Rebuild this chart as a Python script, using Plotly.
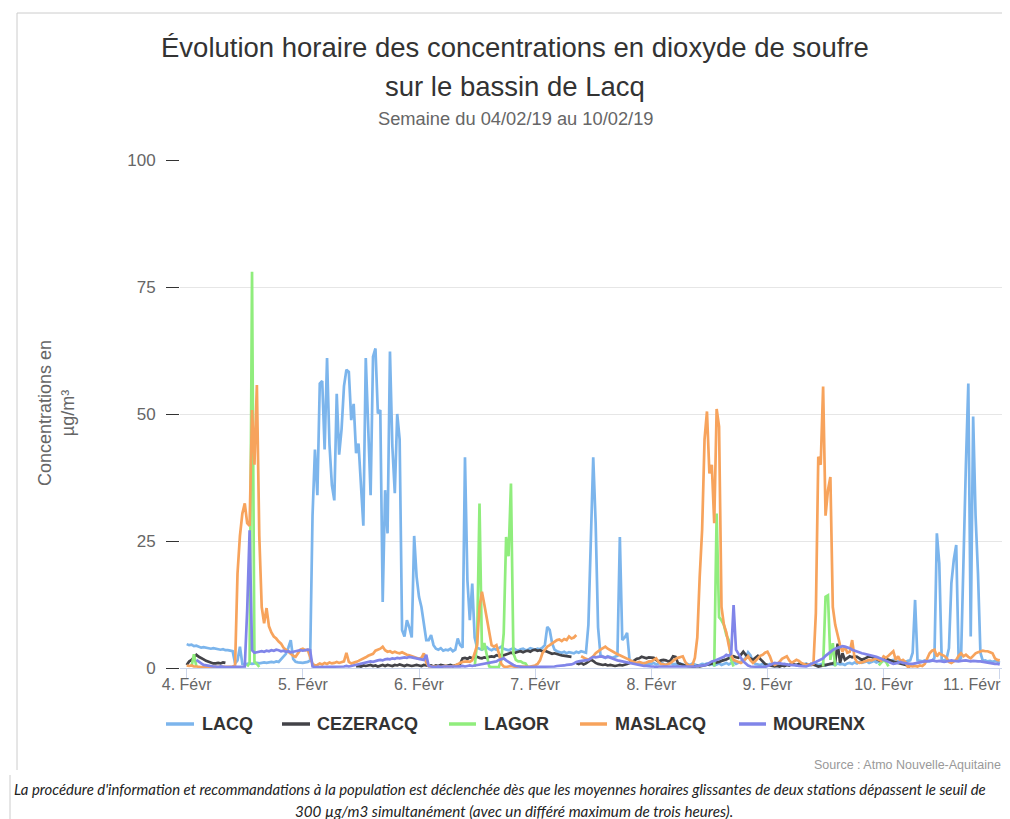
import pandas as pd
import plotly.graph_objects as go

_ = None  # missing measurement

# Half-hourly SO2 concentrations (µg/m³), from 04/02/2019 00:00 to 11/02/2019 00:00
lacq = [
    # 4 Févr
    4.7, 4.5, 4.6, 4.3, 4.4, 4.2, 4.0, 4.1, 4.0, 3.9, 3.8, 3.9, 3.8, 3.7, 3.6, 3.7, 3.5, 3.5, 3.4, 3.3,
    0.9, 1.5, 4.2, 0.8, 0.7, 0.8, 0.9, 0.8, 0.9, 1.0, 0.9, 1.0, 1.1, 1.0, 1.1, 1.2, 1.1, 1.3, 1.2, 1.8,
    2.4, 2.8, 4.0, 5.5, 1.8, 1.2, 1.1, 1.0,
    # 5 Févr
    1.0, 1.1, 1.2, 1.5, 30, 43, 34, 56, 56.5, 43, 61, 44, 36, 33, 54, 42,
    47, 55.5, 58.7, 58.3, 48.8, 52, 42.3, 44.2, 35, 28, 61, 46,
    34, 61.3, 62.9, 50.1, 50.8, 13, 35, 26.5, 62.3, 43.5, 34.4, 50,
    45, 7.5, 6.2, 9.4, 8, 6, 26, 18,
    # 6 Févr
    14, 12, 9, 5.5, 5.5, 6.5, 4.5, 3.8, 3.6, 3.9, 3.4, 3.6, 3.5, 3.8, 3.3, 3.6,
    5.8, 4.5, 4.0, 41.5, 17.3, 9.4, 16.6, 6,
    4.0, 3.8, 3.6, 3.9, 4.1, 3.7, 3.5, 3.8, 3.6, 3.9, 4.2, 3.8, 3.6, 3.5, 3.7, 3.9, 3.6, 3.4, 3.7, 3.8,
    3.5, 3.6, 3.9, 3.7,
    # 7 Févr
    3.6, 3.8, 3.7, 4.0, 4.5, 8.1, 7.5, 4.9,
    3.6, 3.3, 3.2, 3.0, 3.2, 2.9, 3.1, 3.0, 2.9, 3.2, 3.0, 3.3, 3.1, 3.0,
    8.5, 25, 41.5, 28.5, 8, 2.5, 2.2, 2.0, 2.3, 2.1, 2.0, 2.2, 2.4, 25.8,
    5.5, 6, 6.9, 1.6, 1.2, 1.0, 0.9, 1.1, 0.8, 1.0, 0.7, 0.9,
    # 8 Févr
    0.8, 1.0, 0.7, 0.9, 1.1, 0.8, 0.6, 0.9, 1.0, 0.7, 0.8, 0.6, 0.9, 0.7, 0.5, 0.8, 0.6, 0.9, 0.7, 0.5,
    0.6, 0.8, 0.7, 0.9, 0.6, 0.8, 0.5, 0.7, 0.9, 0.6, 0.8, 1.0, 0.7, 0.9, 1.2, 0.8, 1.0, 1.3, 1.5, 2.0,
    3.1, 2.5, 1.2, 0.8, 0.7, 0.6, 0.8, 0.5,
    # 9 Févr
    0.6, 0.8, 0.5, 0.7, 0.9, 0.6, 0.5, 0.8, 0.7, 0.6, 0.9, 0.7, 0.5, 0.8, 0.6, 0.7, 0.9, 0.6, 0.5, 0.7,
    0.8, 0.6, 0.7, 0.9, 0.5, 0.6, 0.8, 0.7, 0.6, 0.9, 0.7, 0.8, 0.6, 0.9, 1.0, 0.8, 1.1, 0.9, 1.2, 1.0,
    1.1, 1.3, 1.0, 1.2, 1.4, 1.1, 1.3, 1.4,
    # 10 Févr -> 11 Févr 00:00
    1.4, 1.5, 1.3, 1.4, 1.6, 1.4, 1.3, 1.5, 1.4, 1.2, 1.4, 1.5, 3.0, 13.4, 1.5,
    1.4, 1.3, 1.5, 1.4, 1.3, 1.4, 2.0, 26.5, 20.6, 1.5, 1.5, 1.8, 3.9, 16.7, 21.3, 24.2, 1.5, 2.0,
    22.6, 40, 56, 6.2, 49.5, 30, 18.6, 3, 1.4, 1.5, 1.3, 1.4, 1.2, 1.4, 1.3, 1.0,
]

cezeracq = [
    # 4 Févr
    0.6, 1.3, 1.6, 2.2, 2.6, 2.2, 2.0, 1.7, 1.4, 1.2, 1.0, 0.9, 0.9, 1.0, 0.9, 1.1, 1.0,
    _, _, _, _, _, _, _, _, _, _, _, _, _, _, _, _, _, _, _, _, _, _, _, _, _, _, _, _, _, _, _,
    # 5 Févr
    _, _, _, _, _, _, _, _, _, _, _, _, _, _, _, _, _, _, _, _, _, _,
    0.3, 0.4, 0.3, 0.5, 0.4, 0.5, 0.6, 0.4, 0.5, 0.3, 0.5, 0.6, 0.4, 0.6, 0.5, 0.4, 0.6, 0.5, 0.7, 0.5,
    0.4, 0.6, 0.5, 0.4, 0.5, 0.6,
    # 6 Févr
    0.5, 0.4, 0.6, 0.5, 0.4, 0.5, 0.3, 0.5, 0.4, 0.6, 0.5, 0.4, 0.5, 0.6, 0.4, 0.5, 0.6, 0.8,
    1.9, 2.0, 1.8, 2.1, 1.9, 2.0, 2.2, 2.0, 1.9, 2.1, 2.0, 2.2, 2.3, 2.2, 2.5, 2.4, 2.6, 2.5, 2.7, 2.8,
    3.0, 2.9, 3.1, 3.2, 3.3, 3.1, 3.3, 3.4, 3.2, 3.5,
    # 7 Févr
    3.6, 3.4, 3.5, 3.3, 3.4, 3.2, 3.0, 2.8, 2.9, 2.7, 2.6, 2.5, 2.4, 2.3, 2.2, 2.2, _,
    1.0, 0.8, 1.0, 0.7, 0.9, 1.2, 1.6, 1.4, 1.0, 0.8, 0.7, 0.6, 0.7, 0.5, 0.6, 0.5, 0.4, 0.5, 0.6, 0.5,
    0.6, 0.8, 1.0, 1.2, 1.5, 1.8, 1.9, 2.2, 2.0, 1.9, 2.1,
    # 8 Févr
    2.1, 2.0, 1.6, 1.3, 1.5, 1.6, 1.5, 1.3, 1.5, 2.3, 2.2, 1.0, 0.8, 0.6, 0.5, 0.4, 0.3, 0.3, 0.3, 0.4,
    0.3, 0.4, 0.6, 0.6, 0.8, 0.9, 1.0, 1.1, 1.2, 1.4, 1.5, 1.7, 1.9, 2.1, 2.3, 2.1, 2.0, 2.6, 3.2, 2.6,
    2.1, 1.9, 1.6, 2.0, 2.4, 1.8, 1.2, 0.8,
    # 9 Févr
    0.6, 0.5, 0.4, 0.3, 0.4, 0.3, 0.5, 0.4, 0.6, 0.5, 0.8, 0.7, 0.6, 0.8, 0.6, 0.5, 0.7, 0.6, 0.8, 0.7,
    0.5, 0.3, 0.4, 0.5, 0.6, 0.7, 0.8, 0.9, 1.2, 4.8, 1.0, 2.9, 1.6, 2.0, 2.3, 2.1, 2.3, 2.2, 1.9, 1.6,
    1.8, 2.0, 2.3, 2.2, 2.0, 1.8, 1.6, 1.3,
    # 10 Févr -> 11 Févr 00:00
    2.0, 1.8, 1.6, 1.4, 1.2, 1.1, 1.0, 0.9, 0.8, 0.7, 0.5, 0.3,
    _, _, _, _, _, _, _, _, _, _, _, _, _, _, _, _, _, _, _, _, _, _, _, _, _, _, _, _, _, _, _, _, _, _,
    _, _, _,
]

lagor = [
    # 4 Févr
    _, _, 0.3, 2.7, 0.3, _, _, _, _, _, _, _, _, _, _, _, _, _, _, _,
    _, _, _, _, _, 0.3, 1.0, 78, 1.2, 0.8, 0.2, _, _, _, _, _, _, _, _, _,
    _, _, _, _, _, _, _, _,
    # 5 Févr
    _, _, _, _, _, _, _, _, _, _, _, _, _, _, _, _, _, _, _, _, _, _, _, _,
    _, _, _, _, _, _, _, _, _, _, _, _, _, _, _, _, _, _, _, _, _, _, _, _,
    # 6 Févr
    _, _, _, _, _, _, _, _, _, _, _, _, _, _, _, _, _, _, _, _, _, _, _, 0.2,
    5, 32.4, 3.5, 4.9, 2.2, 0.3, 0.2, 0.2, 0.2, 0.2, 1.6, 6.8, 25.8, 22, 36.3, 2.9, 1.6, 1.3, 1.3, 1.0,
    0.9, 0.2, _, _,
    # 7 Févr
    _, _, _, _, _, _, _, _, _, _, _, _, _, _, _, _, _, _, _, _, _, _, _, _,
    _, _, _, _, _, _, _, _, _, _, _, _, _, _, _, _, _, _, _, _, _, _, _, _,
    # 8 Févr
    _, _, _, _, _, _, _, _, _, _, _, _, _, _, _, _, _, _, _, _, _, _, _, _, _, _,
    0.3, 30.4, 10, 9.4, 8.5, 6.5, 5.5, 1.6, 0.3,
    _, _, _, _, _, _, _, _, _, _, _, _, _,
    # 9 Févr
    _, _, _, _, _, _, _, _, _, _, _, _, _, _, _, _, _, _, _, _, _, _, _,
    0.3, 14, 14.3, 1.6, 4.9, 0.3,
    _, _, _, _, _, _, _, _, _, _, _, _, _, _, _, _, _, 0.5, 1.0,
    # 10 Févr -> 11 Févr 00:00
    1.6, 1.2, 0.3,
    _, _, _, _, _, _, _, _, _, _, _, _, _, _, _, _, _, _, _, _, _, _, _, _,
    _, _, _, _, _, _, _, _, _, _, _, _, _, _, _, _, _, _, _, _, _, _,
]

maslacq = [
    # 4 Févr
    0.5, 0.4, 0.5, 0.3, 0.3, 0.2, 0.2, 0.2, 0.2, 0.2, 0.2, 0.2, 0.2, 0.2, 0.2, 0.2, 0.2, 0.2, 0.2, 0.3,
    0.5, 18.6, 26, 30.4, 32.4, 28.5, 28, 50.8, 40, 55.7, 26, 12, 8.8, 11.8, 8.2, 7.0, 6.2, 5.8, 5.2, 4.8,
    4.0, 3.5, 3.2, 2.8, 2.4, 2.2, 2.9, 3.6,
    # 5 Févr
    3.8, 3.5, 3.6, 2.0, 0.8, 0.5, 0.6, 0.9, 0.7, 1.0, 0.8, 1.1, 0.9, 1.0, 1.2, 1.0,
    1.1, 1.3, 3.0, 1.2, 0.9, 1.0, 1.2, 1.4, 1.6, 1.8, 2.1, 2.4, 2.6, 2.8, 3.4, 3.6, 3.8, 4.2, 3.5, 3.2,
    3.3, 3.0, 3.2, 3.0, 2.9, 3.1, 2.8, 2.6, 2.5, 2.3, 2.2, 2.0,
    # 6 Févr
    1.8, 2.0, 2.9, 1.0, 0.4, 0.3, 0.3, 0.4, 0.3, 0.2, 0.3, 0.4, 0.3, 0.3, 0.4, 0.5,
    0.8, 1.0, 1.2, 1.3, 1.3, 1.2, 1.5, 2.9, 4.5, 12, 15, 12.5, 10, 6.8, 4.5, 4.2, 4.5, 2.9, 0.8,
    0.3, 0.2, 0.3, 0.4, 0.3, 0.2, 0.3, 0.3, 0.4, 0.3, 0.2, 0.3, 0.4,
    # 7 Févr
    0.5, 0.8, 1.5, 2.9, 3.6, 4.2, 4.5, 4.8, 5.2, 5.5, 5.6, 5.3, 5.7, 5.5, 6.2, 5.8, 6.0, 6.5, _, 2.3,
    2.0, 1.8, 1.6, 1.9, 2.3, 2.9, 3.3, 3.6, 3.9, 4.2, 3.8, 3.5, 3.2, 2.9, 2.7, 2.5, 2.3, 2.0, 1.8, 1.6,
    1.3, 1.1, 1.0, 1.2, 1.0, 0.9, 1.1, 1.3,
    # 8 Févr
    1.3, 1.6, 1.9, 1.2, 0.8, 0.7, 0.6, 0.8, 1.0, 1.4, 1.8, 2.0, 2.2, 2.3, 1.2, 0.6, 0.4, 0.6, 2.0, 6,
    18, 27.2, 45, 50.5, 38.3, 40, 28.5, 51, 47.5, 12, 8.5, 7, 4.5, 2.5, 1.6, 1.4, 1.2, 1.0, 1.3, 1.8,
    2.3, 1.5, 1.0, 1.4, 2.0, 2.4, 2.6, 3.0,
    # 9 Févr
    3.2, 2.3, 1.0, 0.6, 0.8, 1.2, 1.8, 2.1, 2.3, 1.5, 1.0, 1.3, 1.6, 1.4, 1.0, 0.8, 0.6, 0.7, 0.6, 0.8,
    10.8, 41.6, 40, 55.4, 30, 35, 37.6, 12, 8.5, 6.5, 4.5, 3.2, 4.2, 3.0, 3.2, 5.5, 2.0, 1.2, 1.0, 1.1,
    1.3, 1.4, 1.6, 1.5, 1.7, 1.9, 1.6, 1.4,
    # 10 Févr -> 11 Févr 00:00
    2.3, 2.0, 2.4, 2.8, 3.3, 1.6, 2.3, 1.3, 1.6, 1.2, 0.2, 0.4, 0.3, 0.4, 0.3, 0.5, 0.4, 0.8, 1.8, 2.9,
    3.4, 3.6, 2.3, 2.9, 2.6, 2.4, 2.0, 1.2, 1.0, 1.3, 1.6, 2.4, 2.9, 2.3, 2.6, 2.2, 1.9, 2.4, 2.9, 3.1,
    3.3, 3.4, 3.3, 3.3, 3.1, 2.9, 1.9, 1.6, 1.5,
]

mourenx = [
    # 4 Févr
    _, _, _, _, 1.6, 1.2, 0.9, 0.6, 0.5, 0.4, 0.3, 0.3, 0.3, 0.2, 0.3, 0.2, 0.2, 0.2, 0.2, 0.2,
    0.2, 0.2, 0.2, 0.3, 0.3, 11.4, 27.1, 3.5, 3.0, 3.1, 3.2, 3.3, 3.2, 3.4, 3.3, 3.5, 3.4, 3.6, 3.5, 3.3,
    3.4, 3.2, 3.3, 3.1, 3.2, 3.3, 3.4, 3.5,
    # 5 Févr
    3.4, 3.5, 3.6, 3.5, 0.3, 0.2, 0.2, 0.3, 0.2, 0.3, 0.2, 0.2, 0.3, 0.2, 0.3, 0.3, 0.2, 0.3, 0.4, 0.3,
    0.4, 0.5, 0.6, 0.8, 0.9, 1.0, 1.1, 1.2, 1.3, 1.2, 1.4, 1.5, 1.6, 1.5, 1.7, 1.8, 1.7, 1.9, 1.8, 2.0,
    1.9, 2.0, 2.1, 2.0, 2.2, 2.1, 2.0, 1.9,
    # 6 Févr
    1.9, 1.7, 1.6, 2.6, 0.4, 0.3, 0.2, 0.2, 0.3, 0.2, 0.3, 0.3, 0.2, 0.2, 0.3, 0.2, 0.3, 0.3, 0.4, 0.3,
    0.4, 0.5, 0.4, 0.5, 0.6, 0.6, 0.7, 0.8, 0.9, 1.0, 1.1, 1.2, 1.3, 1.6, 1.8, 1.9, 1.5, 1.2, 0.8, 0.6,
    0.4, 0.3, 0.2, 0.2, 0.2, 0.2, 0.2, 0.2,
    # 7 Févr
    0.2, 0.2, 0.2, 0.2, 0.2, 0.3, 0.2, 0.3, 0.3, 0.4, 0.4, 0.5, 0.5, 0.6, 0.6, 0.7,
    0.9, 1.2, 1.3, 1.4, 1.5, 1.5, 1.6, 1.9, 2.2, 2.1, 2.2, 2.3, 2.2, 2.1, 2.2, 2.0, 1.8, 1.7, 1.5, 1.4,
    1.3, 1.2, 1.0, 0.9, 0.8, 0.7, 0.6, 0.6, 0.5, 0.4, 0.4, 0.3,
    # 8 Févr
    0.3, 0.3, 0.2, 0.3, 0.3, 0.2, 0.3, 0.3, 0.2, 0.3, 0.3, 0.3, 0.2, 0.3, 0.3, 0.2, 0.3, 0.3, 0.3, 0.4,
    0.4, 0.5, 0.5, 0.7, 1.0, 1.3, 1.4, 1.6, 1.7, 1.9, 2.2, 2.6, 2.4, 2.8, 12.4, 3.6, 2.7, 2.0, 1.3, 0.9,
    0.5, 0.3, 0.3, 0.3, 0.2, 0.3, 0.3, 0.2,
    # 9 Févr
    0.4, 0.6, 0.9, 1.0, 0.9, 1.0, 0.8, 0.8, 0.7, 0.6, 0.6, 0.5, 0.5, 0.4, 0.4, 0.3, 0.3, 0.5, 0.8, 1.0,
    1.2, 1.4, 1.6, 1.9, 2.4, 2.8, 3.1, 3.5, 3.8, 4.0, 4.2, 4.3, 4.2, 4.1, 3.9, 3.6, 3.4, 3.2, 3.0, 2.9,
    2.8, 2.7, 2.6, 2.5, 2.3, 2.2, 2.0, 1.8,
    # 10 Févr -> 11 Févr 00:00
    1.6, 1.5, 1.2, 1.0, 0.8, 0.9, 1.1, 1.2, 1.0, 0.9, 0.8, 0.8, 0.8, 0.9, 1.1, 1.2, 1.2, 1.3, 1.3, 1.4,
    1.5, 1.4, 1.3, 1.4, 1.3, 1.2, 1.3, 1.4, 1.5, 1.4, 1.3, 1.3, 1.4, 1.5, 1.5, 1.4, 1.3, 1.4, 1.3, 1.3,
    1.3, 1.2, 1.2, 1.1, 1.0, 0.9, 0.8, 0.8, 0.7,
]

station_names = ["LACQ", "CEZERACQ", "LAGOR", "MASLACQ", "MOURENX"]
station_values = [lacq, cezeracq, lagor, maslacq, mourenx]
station_colors = ["#7cb5ec", "#434348", "#90ed7d", "#f7a35c", "#8085e9"]

tick_dates = pd.date_range("2019-02-04", "2019-02-11", freq="D")
tick_labels = ["4. Févr", "5. Févr", "6. Févr", "7. Févr", "8. Févr", "9. Févr", "10. Févr", "11. Févr"]
y_ticks = [0, 25, 50, 75, 100]

FONT = "Liberation Sans, Arial, Helvetica, sans-serif"

fig = go.Figure()
for name, vals, col in zip(station_names, station_values, station_colors):
    times = pd.date_range("2019-02-04 00:00", periods=len(vals), freq="30min")
    fig.add_trace(go.Scatter(
        x=times, y=vals, name=name, mode="lines",
        line=dict(color=col, width=2.7), connectgaps=False, showlegend=False,
    ))

# Page geometry (page pixels). The browser page adds an 8px body margin,
# so the figure itself is 8px smaller and everything is offset accordingly.
OFF = 8
W, H = 1010, 819
PL, PR, PT, PB = 180, 1003, 160, 668   # plot area in page pixels


def px(x):
    return (x - PL) / (PR - PL)


def py(y):
    return (PB - y) / (PB - PT)


annotations = [
    dict(text="Évolution horaire des concentrations en dioxyde de soufre", x=px(515), y=py(48),
         font=dict(size=27.5, color="#333333", family=FONT)),
    dict(text="sur le bassin de Lacq", x=px(515), y=py(86),
         font=dict(size=27.5, color="#333333", family=FONT)),
    dict(text="Semaine du 04/02/19 au 10/02/19", x=px(515), y=py(119),
         font=dict(size=18.3, color="#666666", family=FONT)),
    dict(text="Concentrations en<br>µg/m³", x=px(56), y=py(413), textangle=-90,
         font=dict(size=18, color="#666666", family=FONT)),
    dict(text="Source : Atmo Nouvelle-Aquitaine", x=px(1003), y=py(765), xanchor="right",
         font=dict(size=12.5, color="#999999", family=FONT)),
    dict(text="<i>La procédure d'information et recommandations à la population est déclenchée dès que les moyennes horaires glissantes de deux stations dépassent le seuil de</i>",
         x=px(12), y=py(789), xanchor="left",
         font=dict(size=14.9, color="#222222", family="Lato")),
    dict(text="<i>300 µg/m3 simultanément (avec un différé maximum de trois heures).</i>",
         x=px(514), y=py(811),
         font=dict(size=15.2, color="#222222", family="Lato")),
    # last x label, kept inside the chart like the original
    dict(text=tick_labels[-1], x=px(1003), y=py(684), xanchor="right",
         font=dict(size=16, color="#666666", family=FONT)),
]

shapes = [
    dict(type="line", xref="paper", yref="paper", x0=px(17), x1=px(1012), y0=py(13), y1=py(13),
         line=dict(color="#cccccc", width=1)),
    dict(type="line", xref="paper", yref="paper", x0=px(17), x1=px(17), y0=py(13), y1=py(770),
         line=dict(color="#cccccc", width=1)),
    dict(type="line", xref="paper", yref="paper", x0=px(10), x1=px(10), y0=py(775), y1=py(819),
         line=dict(color="#cccccc", width=1)),
]

# Legend (line sample + bold label for each station)
legend_line_x = [(166, 194), (282, 310), (449, 476), (580, 607), (739, 766)]
legend_text_x = [200, 315, 482, 613, 771]
for name, col, (lx0, lx1), tx in zip(station_names, station_colors, legend_line_x, legend_text_x):
    shapes.append(dict(type="line", xref="paper", yref="paper", x0=px(lx0), x1=px(lx1),
                       y0=py(724), y1=py(724), line=dict(color=col, width=3.5)))
    annotations.append(dict(text="<b>" + name + "</b>", x=px(tx), y=py(724), xanchor="left",
                            font=dict(size=18, color="#333333", family=FONT)))

for a in annotations:
    a.update(xref="paper", yref="paper", showarrow=False)
    a.setdefault("xanchor", "center")
    a.setdefault("yanchor", "middle")

fig.update_layout(
    width=W - OFF, height=H - OFF,
    margin=dict(l=PL - OFF, r=W - PR, t=PT - OFF, b=H - PB, autoexpand=False),
    paper_bgcolor="white", plot_bgcolor="white",
    font=dict(family=FONT, color="#333333"),
    showlegend=False,
    annotations=annotations,
    shapes=shapes,
    hovermode=False,
)

fig.update_xaxes(
    type="date",
    range=[pd.Timestamp("2019-02-03 22:37"), pd.Timestamp("2019-02-11 00:40")],
    tickvals=tick_dates, ticktext=tick_labels[:-1] + [""],
    showgrid=False, zeroline=False,
    showline=True, linecolor="#ccd6eb", linewidth=1,
    ticks="outside", ticklen=10, tickcolor="#ccd6eb", tickwidth=1,
    tickfont=dict(size=16, color="#666666", family=FONT),
    ticklabelstandoff=-8,
)
fig.update_yaxes(
    range=[0, 100], tickvals=y_ticks,
    showgrid=True, gridcolor="#e6e6e6", gridwidth=1, zeroline=False,
    showline=False,
    ticks="outside", ticklen=13, tickcolor="#333333", tickwidth=1,
    tickfont=dict(size=17, color="#666666", family=FONT),
    ticklabelstandoff=7,
)

fig.write_html("out.html")
